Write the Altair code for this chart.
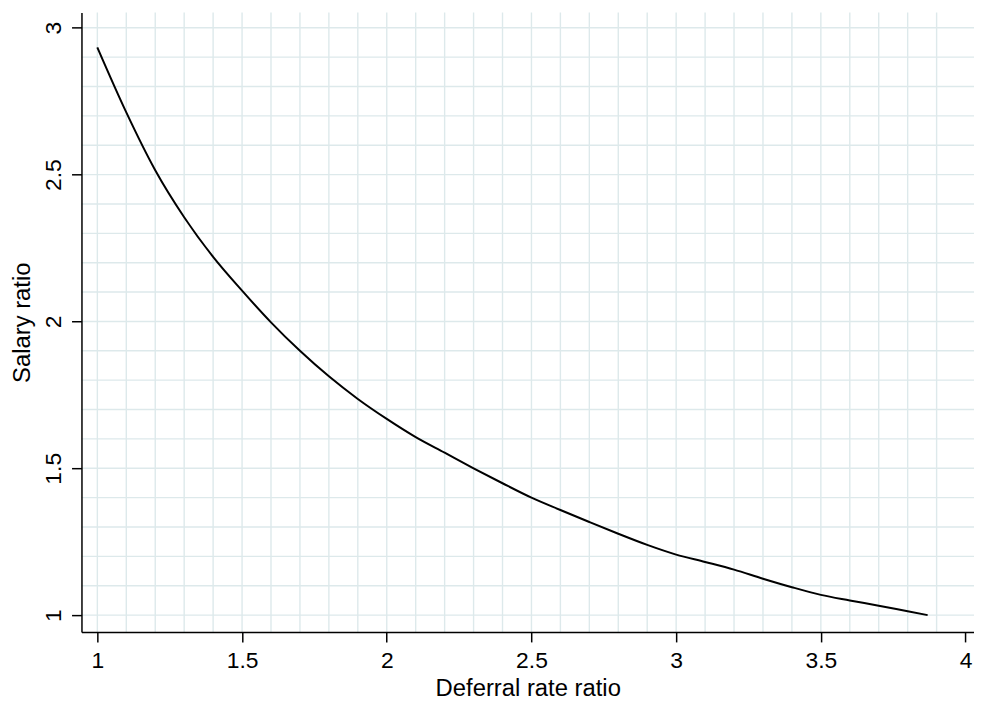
import altair as alt
import pandas as pd

# Curve
deferral_ratio = [1.0, 1.1, 1.2, 1.3, 1.4, 1.5, 1.6, 1.7, 1.8, 1.9,
                  2.0, 2.1, 2.2, 2.3, 2.4, 2.5, 2.6, 2.7, 2.8, 2.9,
                  3.0, 3.1, 3.2, 3.3, 3.4, 3.5, 3.6, 3.7, 3.8, 3.869]
salary_ratio = [2.933, 2.712, 2.515, 2.355, 2.220, 2.105, 1.997, 1.900, 1.813, 1.736,
                1.668, 1.606, 1.553, 1.500, 1.449, 1.400, 1.358, 1.317, 1.277, 1.239,
                1.206, 1.181, 1.155, 1.124, 1.095, 1.069, 1.050, 1.032, 1.013, 1.000]

# Tick labels and grid positions
x_ticks = [1, 1.5, 2, 2.5, 3, 3.5, 4]
y_ticks = [1, 1.5, 2, 2.5, 3]
x_grid = [1.0, 1.1, 1.2, 1.3, 1.4, 1.5, 1.6, 1.7, 1.8, 1.9,
          2.0, 2.1, 2.2, 2.3, 2.4, 2.5, 2.6, 2.7, 2.8, 2.9,
          3.0, 3.1, 3.2, 3.3, 3.4, 3.5, 3.6, 3.7, 3.8, 3.9]
y_grid = [1.0, 1.1, 1.2, 1.3, 1.4, 1.5, 1.6, 1.7, 1.8, 1.9,
          2.0, 2.1, 2.2, 2.3, 2.4, 2.5, 2.6, 2.7, 2.8, 2.9, 3.0]

x_title = "Deferral rate ratio"
y_title = "Salary ratio"

FONT = "Liberation Sans"
GRID_COLOR = "#dde9eb"
W, H = 899, 624

xscale = alt.Scale(domain=[0.9451, 4.0292], nice=False, zero=False)
yscale = alt.Scale(domain=[0.9425, 3.052], nice=False, zero=False)

xaxis = alt.Axis(values=x_ticks, format="~g", grid=False, title=x_title, zindex=1,
                 domainColor="black", domainWidth=1.5, tickColor="black",
                 tickWidth=1.5, tickSize=10, labelFont=FONT, labelFontSize=23,
                 labelColor="black", labelPadding=8, labelFlush=False,
                 labelOverlap=False,
                 titleFont=FONT, titleFontSize=24, titleFontWeight="normal",
                 titleColor="black", titleX=W / 2, titleY=45,
                 titleAlign="center", titleBaseline="top")
yaxis = alt.Axis(values=y_ticks, format="~g", grid=False, title=y_title, zindex=1,
                 domainColor="black", domainWidth=1.5, tickColor="black",
                 tickWidth=1.5, tickSize=10, labelFont=FONT, labelFontSize=23,
                 labelColor="black", labelPadding=6, labelAngle=270,
                 labelAlign="center", labelBaseline="bottom", labelFlush=False,
                 labelOverlap=False,
                 titleFont=FONT, titleFontSize=24, titleFontWeight="normal",
                 titleColor="black", titleAngle=270, titleX=-47.5, titleY=H / 2,
                 titleAlign="center", titleBaseline="bottom")

xenc = alt.X("x:Q", scale=xscale, axis=xaxis)
yenc = alt.Y("y:Q", scale=yscale, axis=yaxis)

curve_df = pd.DataFrame({"x": deferral_ratio, "y": salary_ratio})
xg_df = pd.DataFrame({"x": x_grid})
yg_df = pd.DataFrame({"y": y_grid})

vgrid = alt.Chart(xg_df).mark_rule(color=GRID_COLOR, strokeWidth=1.4).encode(x=xenc)
hgrid = alt.Chart(yg_df).mark_rule(color=GRID_COLOR, strokeWidth=1.4).encode(y=yenc)
line = alt.Chart(curve_df).mark_line(color="black", strokeWidth=2,
                                     interpolate="monotone").encode(x=xenc, y=yenc)

chart = alt.layer(vgrid, hgrid, line).properties(
    width=W, height=H,
    autosize=alt.AutoSizeParams(type="none"),
    padding={"left": 74, "top": 2, "right": 0, "bottom": 69},
    background="white",
).configure_view(strokeWidth=0)

chart.save("out.html", embed_options={"renderer": "svg", "actions": False})
